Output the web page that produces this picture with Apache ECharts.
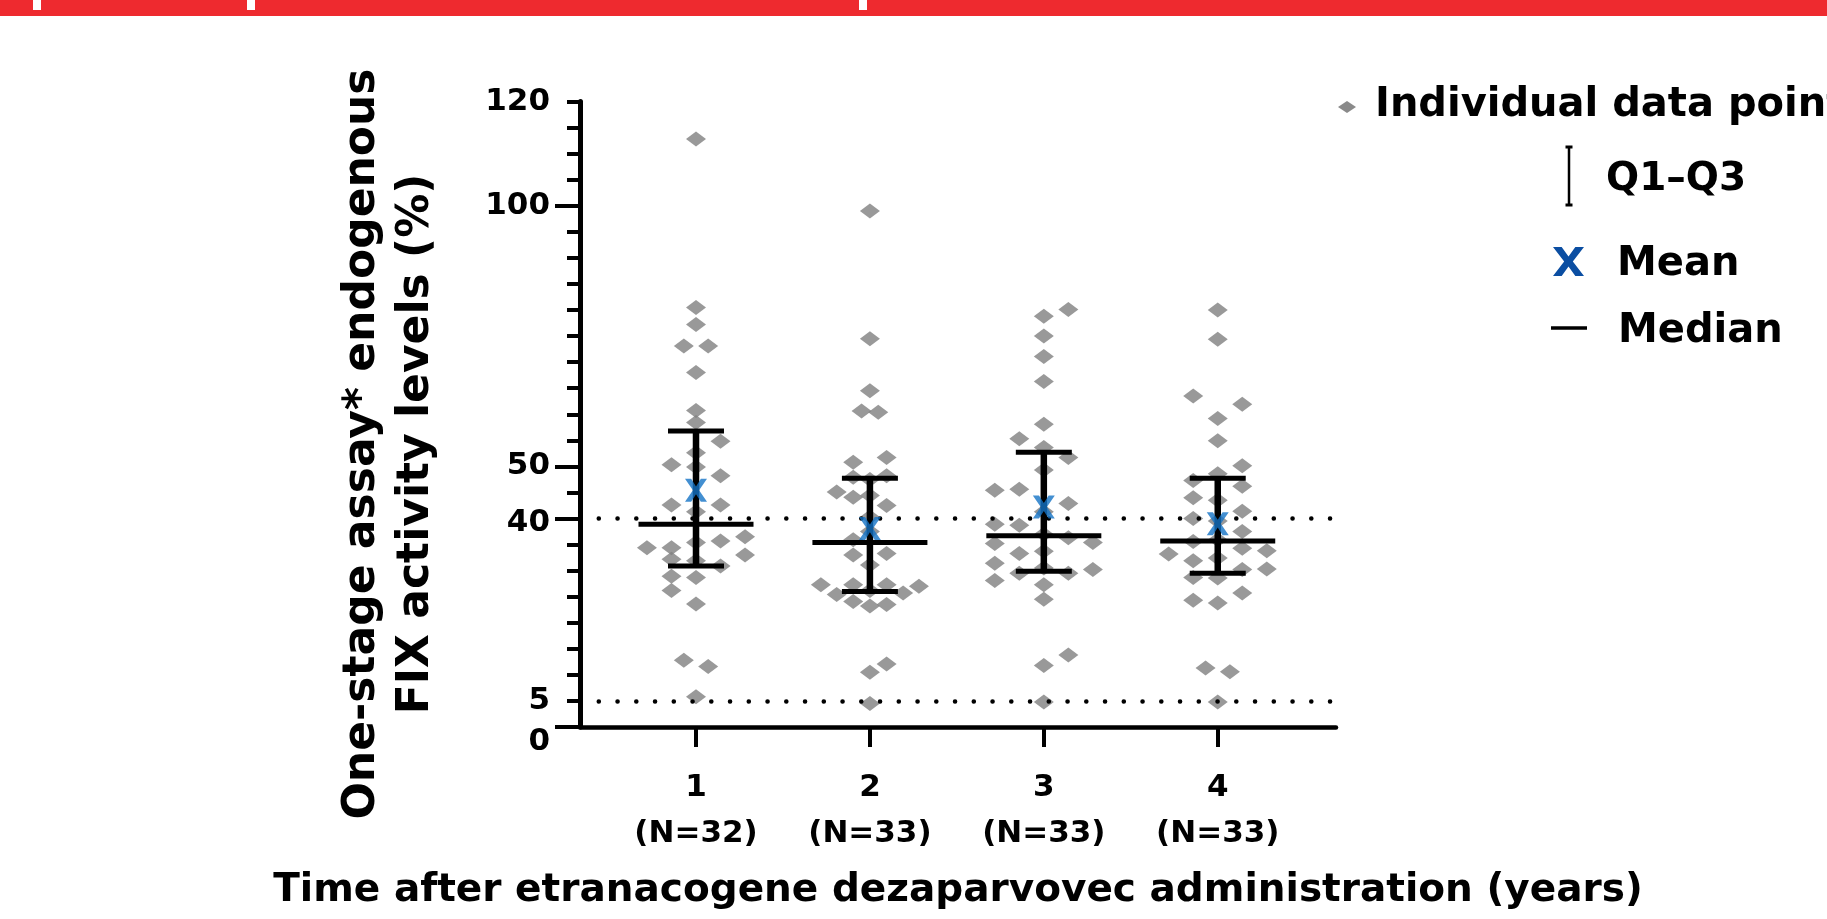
<!DOCTYPE html>
<html>
<head>
<meta charset="utf-8">
<script src="https://cdn.jsdelivr.net/npm/echarts@6/dist/echarts.min.js"></script>
<style>
html,body{margin:0;padding:0;background:#fff;}
#chart{width:1827px;height:919px;}
</style>
</head>
<body>
<div id="chart"></div>
<script>
// ---------- data ----------
const categories = [1, 2, 3, 4];
const nLabels = ['(N=32)', '(N=33)', '(N=33)', '(N=33)'];
const yTickLabels = [0, 5, 40, 50, 100, 120];
const yMajorTicks = [0, 40, 50, 100];
const refLines = [40, 5];

const year1Values = [112.8, 80.5, 77.2, 73.1, 73.1, 68.0, 60.7, 58.4, 54.8, 52.6, 50.3, 49.9, 48.2, 42.6, 42.6, 41.3,
  36.5, 35.7, 35.4, 34.4, 34.4, 33.0, 32.2, 31.9, 30.9, 28.9, 28.7, 26.2, 23.6, 12.8, 11.6, 5.8];
const year1Jitter = [0, 0, 0, -0.07, 0.07, 0, 0, 0, 0.141, 0, -0.141, 0, 0.141, -0.141, 0.141, 0,
  0.282, 0.141, 0, -0.282, -0.141, 0.282, -0.141, 0, 0.141, -0.141, 0, -0.141, 0, -0.07, 0.07, 0];

const year2Values = [99.0, 74.5, 64.5, 60.6, 60.4, 51.7, 50.8, 48.2, 47.9, 47.5, 45.1, 44.4, 44.1, 42.5, 40.3, 37.5,
  35.9, 33.3, 33.0, 31.1, 27.3, 27.3, 27.3, 27.0, 26.2, 25.7, 25.4, 24.1, 23.5, 23.2, 12.1, 10.5, 4.5];
const year2Jitter = [0, 0, 0, -0.048, 0.048, 0.096, -0.096, 0.096, -0.096, 0, -0.191, 0, -0.096, 0.096, 0, 0,
  -0.096, 0.096, -0.096, 0, -0.282, -0.096, 0.096, 0.282, 0, 0.191, -0.191, -0.096, 0.096, 0, 0.096, 0, 0];

const year3Values = [80.1, 78.8, 75.0, 71.1, 66.3, 58.1, 55.3, 53.6, 51.7, 49.3, 45.4, 45.6, 42.9, 41.3, 38.9, 38.7,
  37.0, 36.3, 35.4, 35.2, 33.3, 33.7, 31.4, 30.2, 29.5, 29.5, 30.5, 28.1, 27.3, 24.5, 13.8, 11.8, 4.8];
const year3Jitter = [0.141, 0, 0, 0, 0, 0, -0.141, 0, 0.141, 0, -0.282, -0.141, 0.141, 0, -0.282, -0.141,
  0, 0.141, 0.282, -0.282, -0.141, 0, -0.282, 0.282, -0.141, 0.141, 0, -0.282, 0, 0, 0.141, 0, 0];

const year4Values = [80.0, 74.4, 63.5, 61.9, 59.2, 54.9, 50.1, 48.6, 47.3, 46.2, 44.0, 43.5, 41.4, 40.0, 39.5, 37.5,
  35.6, 35.9, 34.3, 33.8, 33.2, 31.9, 32.4, 30.3, 30.2, 28.7, 28.6, 25.7, 24.3, 23.8, 11.3, 10.6, 4.8];
const year4Jitter = [0, 0, -0.141, 0.141, 0, 0, 0.141, 0, -0.141, 0.141, -0.141, 0, 0.141, -0.141, 0, 0.141,
  -0.141, 0, 0.141, 0.282, -0.282, -0.141, 0, 0.282, 0.141, -0.141, 0, 0.141, -0.141, 0, -0.07, 0.07, 0];

const q1Values = [30.9, 26.0, 29.9, 29.5];
const q3Values = [56.8, 47.7, 52.7, 47.7];
const medianValues = [38.9, 35.4, 36.7, 35.7];
const meanValues = [45.4, 38.1, 42.2, 39.0];

// ---------- build ----------
const groupValues = [year1Values, year2Values, year3Values, year4Values];
const groupJitter = [year1Jitter, year2Jitter, year3Jitter, year4Jitter];
const pointData = [];
groupValues.forEach((vals, i) => {
  vals.forEach((v, k) => pointData.push([categories[i] + groupJitter[i][k], v]));
});
const iqrData = categories.map((c, i) => [c, q1Values[i], q3Values[i]]);
const medianData = categories.map((c, i) => [c, medianValues[i]]);
const meanData = categories.map((c, i) => [c, meanValues[i]]);

const FONT = '"DejaVu Sans", "Noto Sans", sans-serif';
const X_SHAPE = [[0,0],[28,0],[50,33],[72,0],[100,0],[64,50],[100,100],[72,100],[50,67],[28,100],[0,100],[36,50]];
const X_PATH = 'path://M' + X_SHAPE.map(p => p[0] + ',' + p[1]).join(' L') + ' Z';
function xPolygon(x0, y0, w, h) {
  return X_SHAPE.map(p => [x0 + p[0] * w / 100, y0 + p[1] * h / 100]);
}

const chart = echarts.init(document.getElementById('chart'), null, {renderer: 'canvas'});

const yLabStyle = {fontFamily: FONT, fontWeight: 'bold', fontSize: 31, color: '#000'};

const option = {
  backgroundColor: '#ffffff',
  animation: false,
  grid: {left: 580, right: 491, top: 101.5, bottom: 186.7, containLabel: false},
  xAxis: {
    type: 'value', min: 0.333, max: 4.68,
    axisLine: {show: true, onZero: false, lineStyle: {color: '#000', width: 4.5}},
    axisTick: {show: true, customValues: categories, length: 20, lineStyle: {color: '#000', width: 4}},
    axisLabel: {
      show: true, customValues: categories, margin: 38,
      formatter: function (v) {
        const i = categories.indexOf(Math.round(v));
        return '{v|' + categories[i] + '}\n{n|' + nLabels[i] + '}';
      },
      rich: {
        v: {fontFamily: FONT, fontWeight: 'bold', fontSize: 31, lineHeight: 46, color: '#000'},
        n: {fontFamily: FONT, fontWeight: 'bold', fontSize: 31, lineHeight: 46, color: '#000'}
      }
    },
    splitLine: {show: false},
    name: 'Time after etranacogene dezaparvovec administration (years)',
    nameLocation: 'middle', nameGap: 141,
    nameTextStyle: {fontFamily: FONT, fontWeight: 'bold', fontSize: 39, lineHeight: 46, color: '#000'}
  },
  yAxis: [
    {
      type: 'value', min: 0, max: 120, interval: 5,
      axisLine: {show: true, onZero: false, lineStyle: {color: '#000', width: 5}},
      axisTick: {show: true, length: 13, lineStyle: {color: '#000', width: 4}},
      axisLabel: {show: false},
      splitLine: {show: false}
    },
    {
      type: 'value', min: 0, max: 120, position: 'left',
      axisLine: {show: false, onZero: false},
      axisTick: {show: true, customValues: yMajorTicks, length: 25, lineStyle: {color: '#000', width: 4}},
      axisLabel: Object.assign({
        show: true, customValues: yTickLabels, margin: 30,
        formatter: function (v) {
          if (v === 0) return '{z|0}';
          if (v === 40) return '{f|40}';
          return String(v);
        },
        rich: {
          z: Object.assign({padding: [30, 0, 0, 0]}, yLabStyle),
          f: Object.assign({padding: [8, 0, 0, 0]}, yLabStyle)
        }
      }, yLabStyle),
      splitLine: {show: false}
    }
  ],
  series: [
    {
      name: 'Individual data points', type: 'scatter', z: 2,
      data: pointData, symbol: 'diamond', symbolSize: [20, 15],
      itemStyle: {color: '#808080'}, silent: true
    },
    {
      name: 'ref', type: 'scatter', z: 3, data: [], silent: true,
      markLine: {
        silent: true, symbol: ['none', 'none'], label: {show: false},
        lineStyle: {color: '#000', width: 4.5, type: [0.1, 18.65], cap: 'round'},
        emphasis: {disabled: true},
        data: refLines.map(v => ({yAxis: v}))
      }
    },
    {
      name: 'Q1–Q3', type: 'custom', z: 4, silent: true,
      data: iqrData, encode: {x: 0, y: [1, 2]},
      renderItem: function (params, api) {
        const x = api.value(0);
        const top = api.coord([x, api.value(2)]);
        const bot = api.coord([x, api.value(1)]);
        const hw = 28;
        const st = {stroke: '#000', lineWidth: 5};
        return {type: 'group', children: [
          {type: 'line', shape: {x1: top[0], y1: top[1], x2: bot[0], y2: bot[1]}, style: {stroke: '#000', lineWidth: 6.5}},
          {type: 'line', shape: {x1: top[0] - hw, y1: top[1], x2: top[0] + hw, y2: top[1]}, style: st},
          {type: 'line', shape: {x1: bot[0] - hw, y1: bot[1], x2: bot[0] + hw, y2: bot[1]}, style: st}
        ]};
      }
    },
    {
      name: 'Median', type: 'custom', z: 4, silent: true,
      data: medianData, encode: {x: 0, y: 1},
      renderItem: function (params, api) {
        const p = api.coord([api.value(0), api.value(1)]);
        const hw = 57.5;
        return {type: 'line', shape: {x1: p[0] - hw, y1: p[1], x2: p[0] + hw, y2: p[1]}, style: {stroke: '#000', lineWidth: 5}};
      }
    },
    {
      name: 'Mean', type: 'scatter', z: 5, silent: true,
      data: meanData, symbol: X_PATH, symbolSize: [22, 23],
      itemStyle: {color: '#1473C5'}
    }
  ],
  graphic: [
    {type: 'rect', shape: {x: 0, y: 0, width: 1827, height: 16}, style: {fill: '#EE2A2F'}, silent: true},
    {type: 'rect', shape: {x: 33, y: 0, width: 8, height: 10}, style: {fill: '#fff'}, silent: true},
    {type: 'rect', shape: {x: 247, y: 0, width: 8, height: 10}, style: {fill: '#fff'}, silent: true},
    {type: 'rect', shape: {x: 859, y: 0, width: 8, height: 10}, style: {fill: '#fff'}, silent: true},
    // y-axis title
    {type: 'text', x: 390, y: 444, rotation: Math.PI / 2, silent: true,
      style: {text: 'One-stage assay* endogenous\nFIX activity levels (%)', font: 'bold 44px ' + FONT,
        align: 'center', verticalAlign: 'middle', lineHeight: 54, fill: '#000'}},
    // legend
    {type: 'polygon', shape: {points: [[1338, 107], [1347, 101], [1356, 107], [1347, 113]]}, style: {fill: '#8a8a8a'}, silent: true},
    {type: 'text', x: 1375, y: 106, silent: true,
      style: {text: 'Individual data points', font: 'bold 40px ' + FONT, verticalAlign: 'middle', fill: '#000'}},
    {type: 'line', shape: {x1: 1569, y1: 147, x2: 1569, y2: 205}, style: {stroke: '#000', lineWidth: 2.5}, silent: true},
    {type: 'line', shape: {x1: 1565.5, y1: 147, x2: 1572.5, y2: 147}, style: {stroke: '#000', lineWidth: 3}, silent: true},
    {type: 'line', shape: {x1: 1565.5, y1: 205, x2: 1572.5, y2: 205}, style: {stroke: '#000', lineWidth: 3}, silent: true},
    {type: 'text', x: 1606, y: 180, silent: true,
      style: {text: 'Q1–Q3', font: 'bold 39px ' + FONT, verticalAlign: 'middle', fill: '#000'}},
    {type: 'polygon', silent: true, shape: {points: xPolygon(1553, 247, 31, 29)}, style: {fill: '#0B4EA2'}},
    {type: 'text', x: 1617, y: 265, silent: true,
      style: {text: 'Mean', font: 'bold 40px ' + FONT, verticalAlign: 'middle', fill: '#000'}},
    {type: 'line', shape: {x1: 1551, y1: 328, x2: 1587, y2: 328}, style: {stroke: '#000', lineWidth: 3.5}, silent: true},
    {type: 'text', x: 1618, y: 332, silent: true,
      style: {text: 'Median', font: 'bold 40px ' + FONT, verticalAlign: 'middle', fill: '#000'}}
  ]
};
chart.setOption(option);
</script>
</body>
</html>
